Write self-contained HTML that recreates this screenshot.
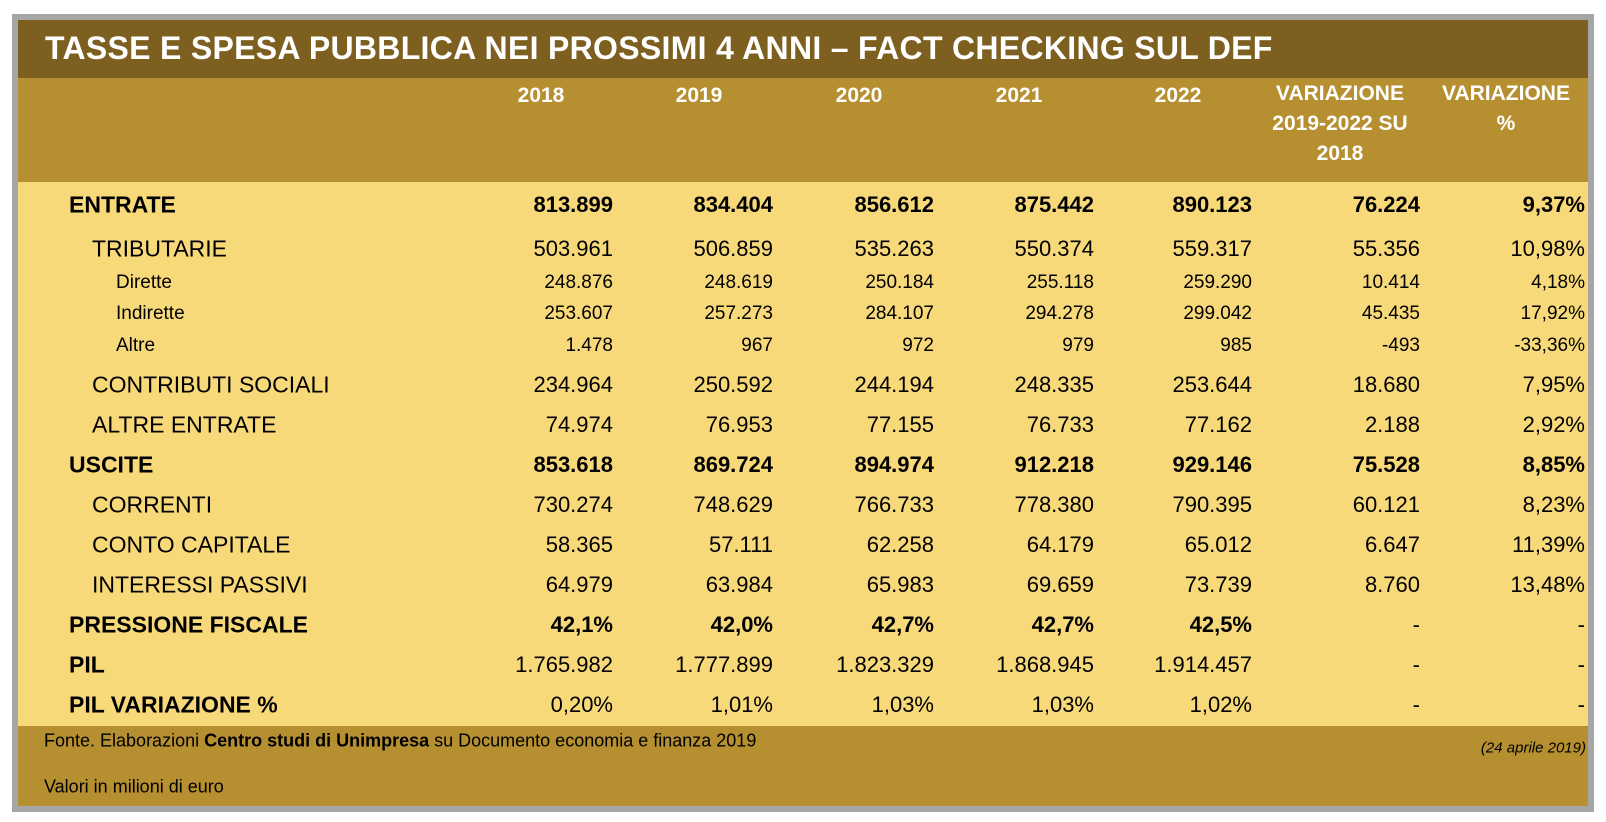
<!DOCTYPE html>
<html><head><meta charset="utf-8"><style>
*{margin:0;padding:0;box-sizing:border-box}
body{width:1606px;height:822px;background:#fff;font-family:"Liberation Sans",sans-serif;position:relative;overflow:hidden}
#frame{position:absolute;left:12px;top:14px;width:1582px;height:798px;background:#a6a6a6}
#title{position:absolute;left:18px;top:20px;width:1570px;height:58px;background:#7d5f1f;color:#fff;font-weight:bold;font-size:32px;padding-left:27px;line-height:56px;letter-spacing:0.3px}
#head{position:absolute;left:18px;top:78px;width:1570px;height:104px;background:#b68f30}
#data{position:absolute;left:18px;top:182px;width:1570px;height:544px;background:#f7d97a}
#foot{position:absolute;left:18px;top:726px;width:1570px;height:80px;background:#b68f30}
.t{position:absolute;white-space:nowrap;transform:translateY(-50%)}
.h{color:#fff;font-weight:bold;font-size:21px;text-align:center;line-height:30px}
.r{text-align:right}
</style></head><body>
<div id="frame"></div>
<div id="title">TASSE E SPESA PUBBLICA NEI PROSSIMI 4 ANNI – FACT CHECKING SUL DEF</div>
<div id="head"></div><div id="data"></div><div id="foot"></div>
<div class="t h" style="left:491px;width:100px;top:96px">2018</div>
<div class="t h" style="left:649px;width:100px;top:96px">2019</div>
<div class="t h" style="left:809px;width:100px;top:96px">2020</div>
<div class="t h" style="left:969px;width:100px;top:96px">2021</div>
<div class="t h" style="left:1128px;width:100px;top:96px">2022</div>
<div class="t h" style="left:1250px;width:180px;top:79px;transform:none">VARIAZIONE<br>2019-2022 SU<br>2018</div>
<div class="t h" style="left:1436px;width:140px;top:79px;transform:none">VARIAZIONE<br>%</div>
<div id="rows"></div>
<div class="t" style="left:44px;top:741px;font-size:18px">Fonte. Elaborazioni <b>Centro studi di Unimpresa</b> su Documento economia e finanza 2019</div>
<div class="t" style="left:44px;top:787px;font-size:18px">Valori in milioni di euro</div>
<div class="t" style="right:20px;top:748px;font-size:15px;font-style:italic">(24 aprile 2019)</div>
<script>
const rows=[
[205,"ENTRATE",69,1,["813.899","834.404","856.612","875.442","890.123","76.224","9,37%"]],
[249,"TRIBUTARIE",92,0,["503.961","506.859","535.263","550.374","559.317","55.356","10,98%"]],
[283,"Dirette",116,2,["248.876","248.619","250.184","255.118","259.290","10.414","4,18%"]],
[314,"Indirette",116,2,["253.607","257.273","284.107","294.278","299.042","45.435","17,92%"]],
[346,"Altre",116,2,["1.478","967","972","979","985","-493","-33,36%"]],
[385,"CONTRIBUTI SOCIALI",92,0,["234.964","250.592","244.194","248.335","253.644","18.680","7,95%"]],
[425,"ALTRE ENTRATE",92,0,["74.974","76.953","77.155","76.733","77.162","2.188","2,92%"]],
[465,"USCITE",69,1,["853.618","869.724","894.974","912.218","929.146","75.528","8,85%"]],
[505,"CORRENTI",92,0,["730.274","748.629","766.733","778.380","790.395","60.121","8,23%"]],
[545,"CONTO CAPITALE",92,0,["58.365","57.111","62.258","64.179","65.012","6.647","11,39%"]],
[585,"INTERESSI PASSIVI",92,0,["64.979","63.984","65.983","69.659","73.739","8.760","13,48%"]],
[625,"PRESSIONE FISCALE",69,1,["42,1%","42,0%","42,7%","42,7%","42,5%","-","-"]],
[665,"PIL",69,3,["1.765.982","1.777.899","1.823.329","1.868.945","1.914.457","-","-"]],
[705,"PIL VARIAZIONE %",69,3,["0,20%","1,01%","1,03%","1,03%","1,02%","-","-"]]];
const rx=[613,773,934,1094,1252,1420,1585];
let h="";
for(const [y,l,lx,k,v] of rows){
 const lb=(k==1||k==3);
 const lfs=k==2?19:23, vfs=k==2?19:22;
 const pb=k==1&&l.startsWith("PRESSIONE");
 h+=`<div class="t" style="left:${lx}px;top:${y}px;font-size:${lfs}px;${lb?'font-weight:bold;':''}">${l}</div>`;
 v.forEach((s,i)=>{h+=`<div class="t r" style="right:${1606-rx[i]}px;top:${y}px;font-size:${vfs}px;${(k==1&&!(pb&&i>4))?'font-weight:bold;':''}">${s}</div>`});
}
document.getElementById("rows").innerHTML=h;
</script>
</body></html>
